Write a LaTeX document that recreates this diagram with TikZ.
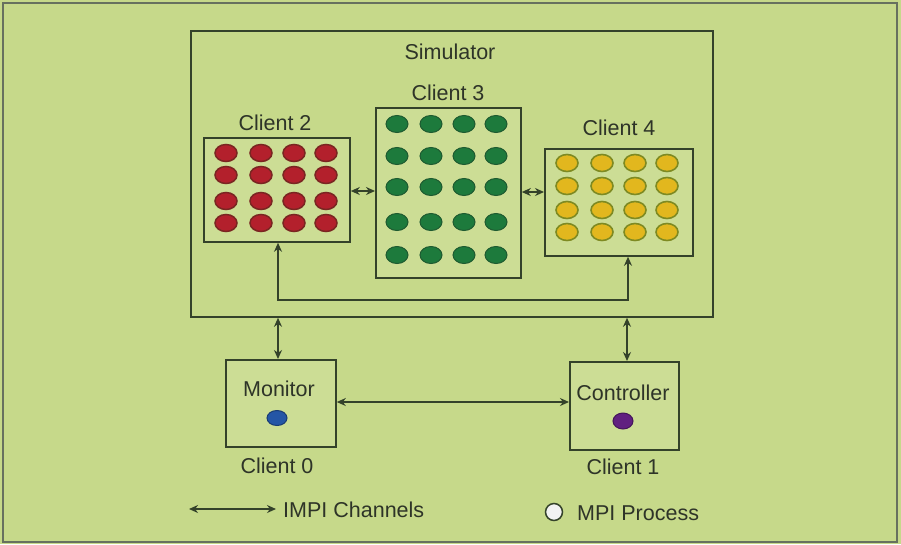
\documentclass[tikz,border=0pt]{standalone}
\usepackage{fontspec}
\setmainfont{Liberation Sans}
\usetikzlibrary{arrows.meta,shapes.geometric}
\definecolor{bg}{HTML}{C6D98A}
\definecolor{boxfill}{HTML}{CCDD95}
\definecolor{ln}{HTML}{34422A}
\definecolor{txt}{HTML}{2E3428}
\definecolor{redd}{HTML}{B3202C}
\definecolor{redo}{HTML}{7A2622}
\definecolor{grn}{HTML}{1D7A3C}
\definecolor{grno}{HTML}{1E5A30}
\definecolor{yel}{HTML}{E2B71E}
\definecolor{yelo}{HTML}{7E8A22}
\definecolor{blu}{HTML}{2456A6}
\definecolor{pur}{HTML}{612080}
\begin{document}
\begin{tikzpicture}[x=1pt,y=-1pt,
  every node/.style={text=txt,font=\fontsize{21.5}{25}\selectfont,inner sep=0pt},
  frame/.style={draw=ln,line width=1.8pt,fill=boxfill},
  chan/.style={draw=ln,line width=1.5pt,{Stealth[length=9pt,width=8pt]}-{Stealth[length=9pt,width=8pt]}},
  dotr/.style={ellipse,draw=redo,fill=redd,line width=1.5pt,minimum width=22pt,minimum height=17pt},
  dotg/.style={ellipse,draw=grno,fill=grn,line width=1pt,minimum width=22pt,minimum height=17pt},
  doty/.style={ellipse,draw=yelo,fill=yel,line width=1.6pt,minimum width=22pt,minimum height=17pt}
]
\fill[bg] (0,0) rectangle (901,544);
\useasboundingbox (0,0) rectangle (901,544);
\draw[ln!75,line width=1.5pt] (3,3) rectangle (897,542);

% Simulator
\node[frame,fill=none,minimum width=522pt,minimum height=286pt,anchor=north west] (sim) at (190,30) {};
\node (simlbl) at (450,52) {Simulator};

% Client 2
\node[frame,minimum width=146pt,minimum height=104pt,anchor=north west] (c2) at (203,137) {};
\node (c2l) at (275,123) {Client 2};
% Client 3
\node[frame,minimum width=145pt,minimum height=170pt,anchor=north west] (c3) at (375,107) {};
\node (c3l) at (448,93) {Client 3};
% Client 4
\node[frame,minimum width=148pt,minimum height=107pt,anchor=north west] (c4) at (544,148) {};
\node (c4l) at (619,128) {Client 4};

\foreach \x [count=\i] in {226,261,294,326}
  \foreach \y [count=\j] in {153,175,201,223}
    \node[dotr] (r\i\j) at (\x,\y) {};
\foreach \x [count=\i] in {397,431,464,496}
  \foreach \y [count=\j] in {124,156,187,222,255}
    \node[dotg] (g\i\j) at (\x,\y) {};
\foreach \x [count=\i] in {567,602,635,667}
  \foreach \y [count=\j] in {163,186,210,232}
    \node[doty] (y\i\j) at (\x,\y) {};

% Monitor / Controller
\node[frame,minimum width=110pt,minimum height=87pt,anchor=north west] (mon) at (225,359) {};
\node (monl) at (279,389) {Monitor};
\node[ellipse,draw=blu!70!black,fill=blu,line width=1pt,minimum width=20pt,minimum height=15pt] (mdot) at (277,418) {};
\node (c0l) at (277,466) {Client 0};

\node[frame,minimum width=109pt,minimum height=88pt,anchor=north west] (con) at (569,361) {};
\node (conl) at (623,393) {Controller};
\node[ellipse,draw=pur!70!black,fill=pur,line width=1pt,minimum width=20pt,minimum height=16pt] (cdot) at (623,421) {};
\node (c1l) at (623,467) {Client 1};

% channels
\draw[chan] (c2.east |- 0,191) -- (c3.west |- 0,191);
\draw[chan] (c3.east |- 0,192) -- (c4.west |- 0,192);
\coordinate (la) at (278,300);
\coordinate (lb) at (628,300);
\draw[chan] (c2.south -| la) -- (la) -- (lb) -- (c4.south -| lb);
\draw[chan] (sim.south -| 278,0) -- (mon.north -| 278,0);
\draw[chan] (sim.south -| 627,0) -- (con.north -| 627,0);
\draw[chan] (mon.east |- 0,402) -- (con.west |- 0,402);

% legend
\coordinate (lg1) at (189,509);
\coordinate (lg2) at (276,509);
\draw[chan] (lg1) -- (lg2);
\node[anchor=west] (lgt) at (283,510) {IMPI Channels};
\node[circle,draw=ln,fill=white!90!gray,line width=1.5pt,minimum size=17pt] (lgc) at (554,512) {};
\node[anchor=west] (lgp) at (577,513) {MPI Process};
\end{tikzpicture}
\end{document}
